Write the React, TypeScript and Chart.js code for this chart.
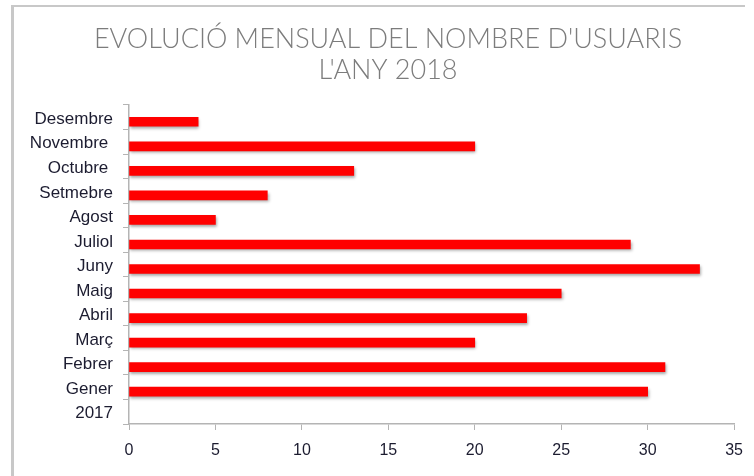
import React, { useEffect, useRef } from "react";
import { Chart, registerables } from "chart.js";

Chart.register(...registerables);

const categories = ["2017", "Gener", "Febrer", "Març", "Abril", "Maig", "Juny", "Juliol", "Agost", "Setmebre", "Octubre ", "Novembre ", "Desembre"];
const users: (number | null)[] = [null, 30, 31, 20, 23, 25, 33, 29, 5, 8, 13, 20, 4];
// Excel-style empty companion series (keeps the red bar in the lower half of each band)
const emptySeries: (number | null)[] = categories.map(() => null);
const titleLines = ["EVOLUCIÓ MENSUAL DEL NOMBRE D'USUARIS", "L'ANY 2018"];
const xTicks = { min: 0, max: 35, step: 5 };

const framePlugin = {
  id: "frameTitle",
  beforeDraw(chart: any) {
    const ctx = chart.ctx;
    ctx.save();
    ctx.fillStyle = "#ffffff";
    ctx.fillRect(0, 0, chart.width, chart.height);
    ctx.strokeStyle = "#c8c8c8";
    ctx.lineWidth = 2;
    ctx.beginPath();
    ctx.moveTo(11, 6);
    ctx.lineTo(745, 6);
    ctx.stroke();
    ctx.lineWidth = 3;
    ctx.beginPath();
    ctx.moveTo(12.5, 6);
    ctx.lineTo(12.5, chart.height);
    ctx.stroke();
    ctx.fillStyle = "#7c7c7c";
    ctx.font = "300 27px Lato, 'Open Sans', sans-serif";
    ctx.textAlign = "center";
    ctx.textBaseline = "alphabetic";
    ctx.fillText(titleLines[0], 388, 48);
    ctx.fillText(titleLines[1], 388, 79);
    ctx.restore();
  },
  beforeDatasetsDraw(chart: any) {
    const ctx = chart.ctx;
    ctx.save();
    ctx.shadowColor = "rgba(0,0,0,0.35)";
    ctx.shadowOffsetX = 1;
    ctx.shadowOffsetY = 2;
    ctx.shadowBlur = 3;
  },
  afterDatasetsDraw(chart: any) {
    chart.ctx.restore();
  },
};

export default function App() {
  const ref = useRef<HTMLCanvasElement | null>(null);
  useEffect(() => {
    if (!ref.current) return;
    const chart = new Chart(ref.current, {
      type: "bar",
      data: {
        labels: categories,
        datasets: [
          {
            data: emptySeries,
            backgroundColor: "rgba(0,0,0,0)",
            borderWidth: 0,
            barThickness: 9,
          },
          {
            data: users,
            backgroundColor: "#ff0000",
            borderWidth: 0,
            barThickness: 9,
          },
        ],
      },
      plugins: [framePlugin],
      options: {
        indexAxis: "y",
        animation: false,
        responsive: false,
        maintainAspectRatio: false,
        layout: { padding: { top: 105, right: 13, bottom: 0, left: 0 } },
        plugins: {
          legend: { display: false },
          title: { display: false },
          tooltip: { enabled: false },
        },
        scales: {
          x: {
            type: "linear",
            min: xTicks.min,
            max: xTicks.max,
            ticks: {
              stepSize: xTicks.step,
              color: "#1c1c30",
              font: { family: "'Liberation Sans', Arial, sans-serif", size: 16 },
              padding: 11,
            },
            grid: { drawOnChartArea: false, drawTicks: true, tickLength: 6, color: "#b4b4b4" },
            border: { color: "#b4b4b4", width: 1.5 },
            afterFit(scale: any) {
              scale.height = 52;
            },
          },
          y: {
            type: "category",
            reverse: true,
            ticks: {
              color: "#1c1c30",
              font: { family: "'Liberation Sans', Arial, sans-serif", size: 17 },
              padding: 10,
              labelOffset: 2,
              autoSkip: false,
            },
            grid: { drawOnChartArea: false, drawTicks: true, tickLength: 6, color: "#b4b4b4", offset: true },
            border: { color: "#b4b4b4", width: 1.5 },
            afterFit(scale: any) {
              scale.width = 129;
            },
          },
        },
      },
    } as any);
    return () => chart.destroy();
  }, []);
  return (
    <div style={{ position: "absolute", left: 0, top: 0, width: 754, height: 476 }}>
      <canvas ref={ref} width={754} height={476} style={{ display: "block", width: 754, height: 476 }} />
    </div>
  );
}
